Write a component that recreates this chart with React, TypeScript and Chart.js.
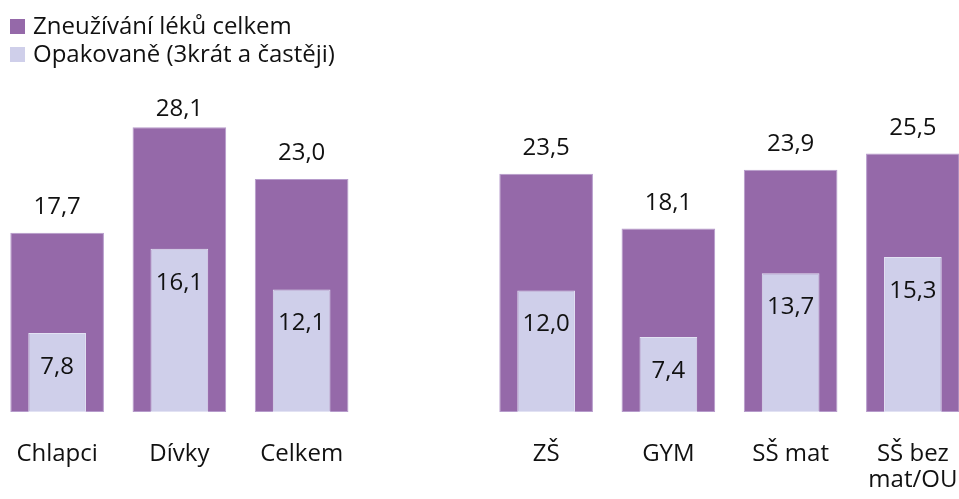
import React, { useEffect, useRef } from "react";
import { Chart, registerables } from "chart.js";

Chart.register(...registerables);

const categories: (string | string[])[] = ["Chlapci", "Dívky", "Celkem", "", "ZŠ", "GYM", "SŠ mat", ["SŠ bez", "mat/OU"]];
const totalValues: (number | null)[] = [17.7, 28.1, 23.0, null, 23.5, 18.1, 23.9, 25.5];
const repeatedValues: (number | null)[] = [7.8, 16.1, 12.1, null, 12.0, 7.4, 13.7, 15.3];
const seriesNames = ["Zneužívání léků celkem", "Opakovaně (3krát a častěji)"];
const seriesColors = ["#9569A9", "#CFCFEA"];
const seriesBorders = ["#B69BCB", "#E2E2F3"];
const axisMax = 30;

const FONT = "'Open Sans', 'Noto Sans', sans-serif";

const fmt = (v: number) => v.toFixed(1).replace(".", ",");

const valueLabels = {
  id: "valueLabels",
  afterDatasetsDraw(chart: any) {
    const ctx = chart.ctx;
    const top = chart.chartArea.top;
    ctx.save();
    ctx.font = `24px ${FONT}`;
    ctx.fillStyle = "#111111";
    ctx.textAlign = "center";
    ctx.textBaseline = "middle";
    chart.data.datasets.forEach((ds: any, di: number) => {
      const meta = chart.getDatasetMeta(di);
      meta.data.forEach((bar: any, i: number) => {
        const v = ds.data[i];
        if (v == null) return;
        let y: number;
        if (ds.isTotal) {
          y = Math.max(bar.y - 25.5, top + 1);
        } else {
          y = bar.y + 34;
        }
        ctx.fillText(fmt(v), bar.x, y);
      });
    });
    ctx.restore();
  },
};

export default function App() {
  const canvasRef = useRef<HTMLCanvasElement | null>(null);

  useEffect(() => {
    document.documentElement.style.overflow = "hidden";
    document.body.style.margin = "0";
    const canvas = canvasRef.current;
    if (!canvas) return;
    const chart = new Chart(canvas, {
      type: "bar",
      data: {
        labels: categories as any,
        datasets: [
          {
            label: seriesNames[1],
            data: repeatedValues,
            backgroundColor: seriesColors[1],
            borderColor: seriesBorders[1],
            borderWidth: 1,
            borderSkipped: false,
            grouped: false,
            categoryPercentage: 1,
            barPercentage: 0.472,
            order: 0,
            isTotal: false,
          } as any,
          {
            label: seriesNames[0],
            data: totalValues,
            backgroundColor: seriesColors[0],
            borderColor: seriesBorders[0],
            borderWidth: 1,
            borderSkipped: false,
            grouped: false,
            categoryPercentage: 1,
            barPercentage: 0.766,
            order: 1,
            isTotal: true,
          } as any,
        ],
      },
      options: {
        animation: false,
        responsive: false,
        maintainAspectRatio: false,
        layout: { padding: { top: 108, bottom: 3, left: 0, right: 0 } },
        plugins: {
          legend: { display: false },
          tooltip: { enabled: false },
        },
        scales: {
          x: {
            grid: { display: false, drawTicks: true, tickLength: 26 },
            border: { display: false },
            ticks: {
              color: "#111111",
              font: { family: FONT, size: 24, lineHeight: "26px" },
              padding: 3,
              maxRotation: 0,
              autoSkip: false,
            },
          },
          y: {
            display: false,
            min: 0,
            max: axisMax,
          },
        },
      },
      plugins: [valueLabels],
    });
    return () => chart.destroy();
  }, []);

  return (
    <>
      <div style={{ position: "fixed", left: -4, top: 0, width: 978, height: 499 }}>
        <canvas ref={canvasRef} width={978} height={499} style={{ display: "block", width: 978, height: 499 }} />
      </div>
      <div
        style={{
          position: "fixed",
          left: 10,
          top: 11,
          fontFamily: FONT,
          fontSize: 24,
          color: "#111111",
          lineHeight: "28px",
        }}
      >
        {seriesNames.map((name, i) => (
          <div key={i} style={{ display: "flex", alignItems: "center", height: 28, whiteSpace: "nowrap" }}>
            <span
              style={{
                display: "inline-block",
                width: 15,
                height: 15,
                marginTop: 3,
                background: seriesColors[i],
                marginRight: 8,
              }}
            />
            <span>{name}</span>
          </div>
        ))}
      </div>
    </>
  );
}
